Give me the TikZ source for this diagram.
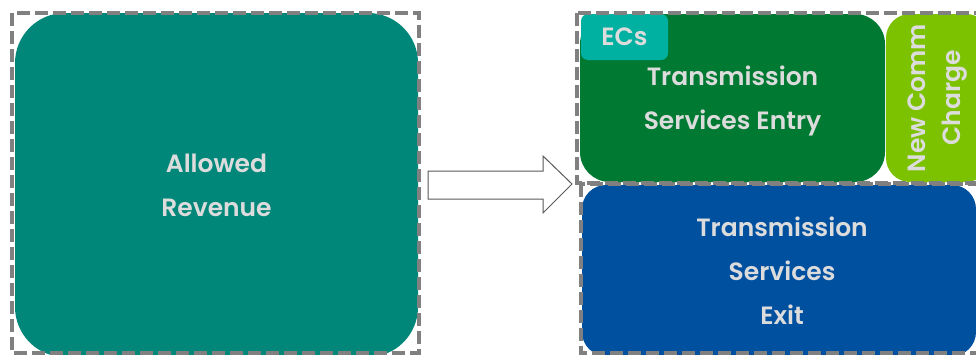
\documentclass[tikz,border=0pt]{standalone}
\usepackage{fontspec}
\setmainfont{Poppins}[BoldFont={Poppins SemiBold}]
\begin{document}
\begin{tikzpicture}[x=1pt,y=-1pt,
  box/.style={inner sep=0pt, outer sep=0pt, align=center, text=txtgray,
    font=\bfseries\fontsize{25}{44}\selectfont},
  dashbox/.style={draw=dashgray, line width=4pt, dash pattern=on 13pt off 5pt},
  arrowshape/.style={draw=arrowgray, line width=1pt, fill=white}]
\definecolor{teal1}{HTML}{00877A}
\definecolor{dkgreen}{HTML}{007A33}
\definecolor{ecteal}{HTML}{00B0A0}
\definecolor{ltgreen}{HTML}{7CC200}
\definecolor{blue1}{HTML}{0050A0}
\definecolor{txtgray}{HTML}{DCDCDC}
\definecolor{dashgray}{HTML}{808080}
\definecolor{arrowgray}{HTML}{595959}
\useasboundingbox (0,0) rectangle (976,354);
\begin{scope}
\clip (0,0) rectangle (976,354);
% left
\node[box, fill=teal1, rounded corners=50pt, minimum width=403pt, minimum height=344pt]
  (allowed) at (216.5,185) {Allowed\\Revenue};
\draw[dashbox] (12,13) rectangle (419,353);
% arrow
\draw[arrowshape] (428,171) -- (543,171) -- (543,156) -- (572,184) -- (543,213) -- (543,199) -- (428,199) -- cycle;
% right bottom
\node[box, fill=blue1, rounded corners=24pt, minimum width=394pt, minimum height=171pt]
  (exit) at (779,270.5) {\hspace*{6pt}Transmission\\\hspace*{6pt}Services\\\hspace*{6pt}Exit};
\draw[dashbox] (581,184) rectangle (990,353);
% right top
\node[box, fill=dkgreen, rounded corners=30pt, minimum width=305pt, minimum height=168pt]
  (entry) at (732.5,98) {};
\node[box, anchor=center] (entrytext) at (732.5,101) {Transmission\\Services Entry};
\node[box, fill=ecteal, rounded corners=7pt, minimum width=87pt, minimum height=46pt]
  (ecs) at (624.5,37) {ECs};
\node[box, fill=ltgreen, rounded corners=24pt, minimum width=104pt, minimum height=168pt]
  (comm) at (938,98) {};
\node[box, rotate=90, font=\bfseries\fontsize{25}{35}\selectfont] (commtext) at (comm.center) {New Comm\\Charge};
\draw[dashbox] (577,13) rectangle (990,183);
\end{scope}
\end{tikzpicture}
\end{document}
